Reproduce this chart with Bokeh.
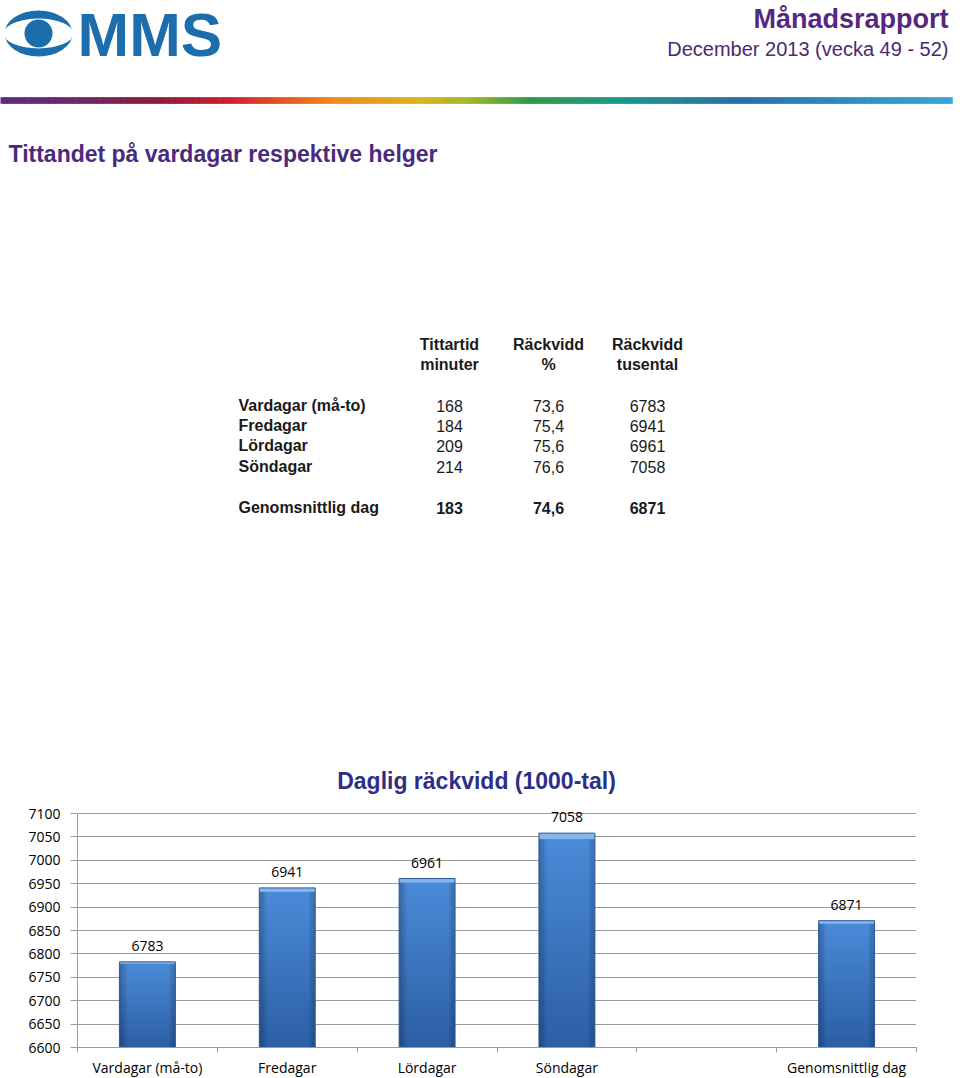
import numpy as np
from bokeh.plotting import figure
from bokeh.models import Range1d, FixedTicker, ColumnDataSource, LabelSet
from bokeh.embed import file_html
from bokeh.resources import INLINE
from bokeh.core.properties import value

# ---------------- data ----------------
report_title = "Månadsrapport"
report_period = "December 2013 (vecka 49 - 52)"
section_title = "Tittandet på vardagar respektive helger"
chart_title = "Daglig räckvidd (1000-tal)"

col_head_1 = ["Tittartid", "Räckvidd", "Räckvidd"]
col_head_2 = ["minuter", "%", "tusental"]
row_labels = ["Vardagar (må-to)", "Fredagar", "Lördagar", "Söndagar"]
minutes = [168, 184, 209, 214]
reach_pct = [73.6, 75.4, 75.6, 76.6]
reach_k = [6783, 6941, 6961, 7058]
avg_label = "Genomsnittlig dag"
avg_minutes = 183
avg_pct = 74.6
avg_k = 6871

chart_categories = ["Vardagar (må-to)", "Fredagar", "Lördagar", "Söndagar", "", "Genomsnittlig dag"]
chart_values = [6783, 6941, 6961, 7058, None, 6871]
y_ticks = [6600, 6650, 6700, 6750, 6800, 6850, 6900, 6950, 7000, 7050, 7100]

# ---------------- styles ----------------
HEAD_FONT = value("Liberation Sans")
PURPLE = "#55287f"
NAVY = "#2d2f86"
LOGO_BLUE = "#1c6dab"
TXT = "#1a1a1a"
GRID = "#9a9a9a"

def fmt_dec(v):
    return f"{v:.1f}".replace(".", ",")

def txt(fig, xs, ys, texts, size, color=TXT, bold=False, align="left"):
    fig.text(x=xs, y=ys, text=texts, text_font=HEAD_FONT,
             text_font_style="bold" if bold else "normal", text_font_size=size,
             text_color=color, text_align=align, text_baseline="middle")

# ---------------- top (header + table) ----------------
TOP_H = 800
top = figure(width=960, height=TOP_H, x_range=Range1d(0, 960), y_range=Range1d(TOP_H, 0),
             toolbar_location=None, output_backend="svg", min_border=0,
             x_axis_location=None, y_axis_location=None)
top.grid.visible = False
top.outline_line_color = None

# logo (eye + MMS)
top.ellipse(x=[38], y=[33], width=[68], height=[46], fill_color=LOGO_BLUE, line_color=None)
top.ellipse(x=[38], y=[33], width=[70], height=[30], fill_color="white", line_color=None)
top.circle(x=[38], y=[33], radius=14, fill_color=LOGO_BLUE, line_color=None)
txt(top, [77], [34], ["MMS"], "62px", LOGO_BLUE, bold=True)

# header right
txt(top, [948], [18], [report_title], "27px", PURPLE, bold=True, align="right")
txt(top, [948], [48], [report_period], "20px", "#4a2a70", align="right")

# rainbow stripe (decoration)
stops_x = [0, 80, 160, 230, 330, 420, 470, 530, 620, 740, 830, 952]
stops_c = [(0x5b, 0x2d, 0x86), (0x70, 0x28, 0x66), (0x90, 0x1c, 0x3c), (0xd0, 0x20, 0x2e),
           (0xf0, 0x8a, 0x1c), (0xdc, 0xb4, 0x1c), (0xa0, 0xb8, 0x2a), (0x2e, 0x9a, 0x47),
           (0x1c, 0x9a, 0x8a), (0x2a, 0x6f, 0xa8), (0x2a, 0x8a, 0xc0), (0x38, 0xa8, 0xd8)]
SEG = 3
seg_l = list(range(0, 952, SEG))
seg_cols = []
for xl in seg_l:
    xm = xl + SEG / 2
    for k in range(len(stops_x) - 1):
        if stops_x[k] <= xm <= stops_x[k + 1]:
            f = (xm - stops_x[k]) / (stops_x[k + 1] - stops_x[k])
            c = [int(stops_c[k][j] + (stops_c[k + 1][j] - stops_c[k][j]) * f) for j in range(3)]
            seg_cols.append("#%02x%02x%02x" % tuple(c))
            break
top.quad(left=seg_l, right=[min(x + SEG + 1, 952) for x in seg_l], top=[97] * len(seg_l),
         bottom=[103] * len(seg_l), fill_color=seg_cols, line_color=seg_cols, line_width=0.6)

# section title
txt(top, [8], [153], [section_title], "23px", "#4b2a7c", bold=True)

# table
col_x = [449, 548, 647]
label_x = 238
head_y = [344, 364]
row_y = [405, 425, 445, 466]
avg_y = 507
txt(top, col_x, [head_y[0]] * 3, col_head_1, "16px", bold=True, align="center")
txt(top, col_x, [head_y[1]] * 3, col_head_2, "16px", bold=True, align="center")
txt(top, [label_x] * len(row_labels), row_y, row_labels, "16px", bold=True)
for cx, vals in zip(col_x, [[str(m) for m in minutes], [fmt_dec(p) for p in reach_pct],
                            [str(r) for r in reach_k]]):
    txt(top, [cx] * len(vals), row_y, vals, "16px", align="center")
txt(top, [label_x], [avg_y], [avg_label], "16px", bold=True)
txt(top, col_x, [avg_y] * 3, [str(avg_minutes), fmt_dec(avg_pct), str(avg_k)], "16px",
    bold=True, align="center")

# chart title
txt(top, [476], [780], [chart_title], "23px", NAVY, bold=True, align="center")

# ---------------- chart ----------------
n = len(chart_categories)
PX_PER_UNIT = 234 / (y_ticks[-1] - y_ticks[0])
FRAME_H = 239
y_end = y_ticks[0] + FRAME_H / PX_PER_UNIT
chart = figure(frame_width=839, frame_height=FRAME_H, x_range=Range1d(0, n),
               y_range=Range1d(y_ticks[0], y_end),
               toolbar_location=None, output_backend="svg",
               min_border_left=77, min_border_right=44, min_border_top=8, min_border_bottom=31)
chart.outline_line_color = None
chart.xgrid.visible = False
chart.ygrid.grid_line_color = GRID
chart.ygrid.ticker = FixedTicker(ticks=y_ticks)

xa = chart.xaxis[0]
centers_all = [i + 0.5 for i in range(n)]
xa.ticker = FixedTicker(ticks=centers_all, minor_ticks=list(range(n + 1)))
xa.major_label_overrides = {c: lab for c, lab in zip(centers_all, chart_categories)}
xa.major_tick_out = 0
xa.major_tick_in = 0
xa.minor_tick_out = 5
xa.minor_tick_in = 0
xa.axis_line_color = GRID
xa.minor_tick_line_color = GRID
xa.major_label_text_font = "Open Sans"
xa.major_label_text_font_size = "14px"
xa.major_label_text_color = "black"
xa.major_label_standoff = 5

ya = chart.yaxis[0]
ya.ticker = FixedTicker(ticks=y_ticks)
ya.bounds = (y_ticks[0], y_ticks[-1])
ya.major_tick_out = 7
ya.major_tick_in = 0
ya.minor_tick_out = 0
ya.minor_tick_in = 0
ya.axis_line_color = GRID
ya.major_tick_line_color = GRID
ya.major_label_text_font = "Open Sans"
ya.major_label_text_font_size = "14px"
ya.major_label_text_color = "black"
ya.major_label_standoff = 10

# bar texture (vertical gradient with darker edges)
TN, TM = 64, 24
tex = np.empty((TN, TM), dtype=np.uint32)
view = tex.view(dtype=np.uint8).reshape((TN, TM, 4))
top_c = np.array([0x4c, 0x8c, 0xda], dtype=float)
bot_c = np.array([0x2c, 0x5f, 0xa5], dtype=float)
tt = np.linspace(0, 1, TN)[:, None, None]
base = bot_c[None, None, :] + (top_c - bot_c)[None, None, :] * tt
base = np.repeat(base, TM, axis=1)
uu = np.abs(np.linspace(-1, 1, TM))
edge = 1 - 0.22 * np.clip((uu - 0.75) / 0.25, 0, 1)
base = base * edge[None, :, None]
base[-2:, :, :] = np.array([0x86, 0xb6, 0xec], dtype=float)
view[:, :, :3] = np.clip(base, 0, 255).astype(np.uint8)
view[:, :, 3] = 255

bw = 0.4
bx = [i + 0.5 for i, v in enumerate(chart_values) if v is not None]
bv = [v for v in chart_values if v is not None]
src = ColumnDataSource(dict(
    x=bx, v=bv, left=[x - bw / 2 for x in bx], base=[y_ticks[0]] * len(bv),
    dh=[v - y_ticks[0] for v in bv], dw=[bw] * len(bv), img=[tex] * len(bv),
    lab=[str(v) for v in bv]))
chart.image_rgba(image="img", x="left", y="base", dw="dw", dh="dh", source=src)
chart.vbar(x="x", top="v", bottom="base", width=bw, source=src, fill_color=None,
           line_color="#2a5996", line_width=1)

labels = LabelSet(x="x", y="v", text="lab", source=src, text_align="center",
                  text_baseline="alphabetic", y_offset=11, text_font=value("Open Sans"),
                  text_font_size="14px", text_color="black")
chart.add_layout(labels)

open("out.html", "w").write(file_html([top, chart], INLINE))
